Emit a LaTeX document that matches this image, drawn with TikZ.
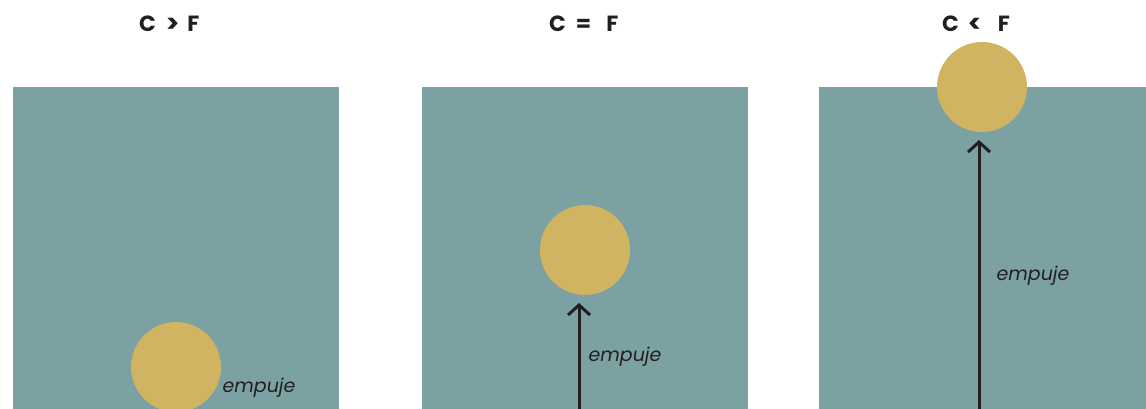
\documentclass[tikz,border=0pt]{standalone}
\usepackage{fontspec}
\setmainfont{Poppins}
\usetikzlibrary{arrows.meta}
\definecolor{water}{HTML}{7BA1A3}
\definecolor{ball}{HTML}{D1B461}
\definecolor{ink}{HTML}{231F20}
\newcommand{\chev}[1]{{\fontsize{25}{25}\selectfont\raisebox{-1pt}{#1}}}
\begin{document}
\begin{tikzpicture}[x=1pt,y=-1pt,
  bob/.style={circle,fill=ball,draw=none,minimum size=90pt,inner sep=0pt},
  title/.style={font=\fontsize{22}{26}\selectfont\bfseries,text=ink,anchor=base west,inner sep=0pt},
  lbl/.style={font=\fontsize{19}{22}\selectfont\itshape,text=ink,anchor=base},
  push/.style={draw=ink,line width=3pt,-{Straight Barb[length=10pt,width=22pt,line width=3pt]}}]
\useasboundingbox (0,0) rectangle (1146,409);
\fill[water] (13,87) rectangle (339,409);
\fill[water] (422,87) rectangle (748,409);
\fill[water] (819,87) rectangle (1146,409);
\node[title] (t1) at (139,32) {C\hspace{10pt}\chev{>}\hspace{8pt}F};
\node[title] (t2) at (549,32) {C\hspace{10pt}=\hspace{15pt}F};
\node[title] (t3) at (942,32) {C\hspace{9pt}\chev{<}\hspace{16pt}F};
\node[bob] (b1) at (176,367) {};
\node[bob] (b2) at (585,250) {};
\node[bob] (b3) at (982,87) {};
\coordinate (s2) at (579,409);
\coordinate (e2) at (579,303);
\coordinate (s3) at (979,409);
\coordinate (e3) at (979,140);
\draw[push] (s2) -- (e2);
\draw[push] (s3) -- (e3);
\node[lbl] (l1) at (259,392) {empuje};
\node[lbl] (l2) at (625,361) {empuje};
\node[lbl] (l3) at (1033,280) {empuje};
\end{tikzpicture}
\end{document}
